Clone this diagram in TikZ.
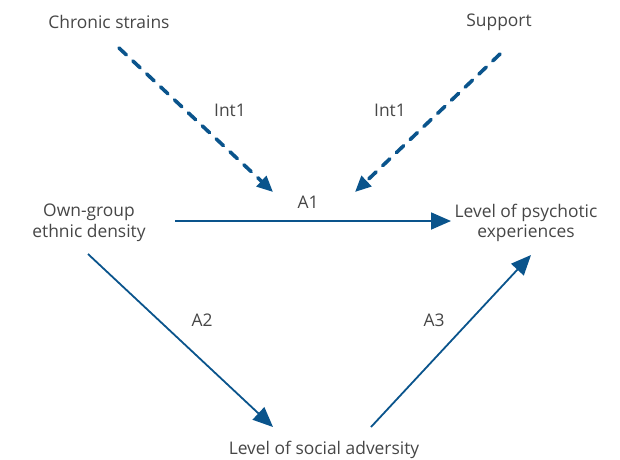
\documentclass[tikz,border=0pt]{standalone}
\usepackage{fontspec}
\setmainfont{Open Sans}
\usetikzlibrary{arrows.meta}
\definecolor{pathblue}{RGB}{10,84,140}
\definecolor{labelgray}{RGB}{70,70,70}
\begin{document}
\begin{tikzpicture}[x=1pt,y=-1pt,
  lbl/.style={text=labelgray,font=\fontsize{17.4}{20.5}\selectfont,align=center,inner sep=0pt},
  path/.style={draw=pathblue,line width=1.8pt,-{Triangle[length=20pt,width=17pt]}},
  dpath/.style={draw=pathblue,line width=3.6pt,dash pattern=on 10pt off 9pt,line cap=round,
    -{Triangle[length=16pt,width=14pt]}}]
\useasboundingbox (0,0) rectangle (620,459);
% variables
\node[lbl] (cs) at (109,22) {Chronic strains};
\node[lbl] (sup) at (499,22) {Support};
\node[lbl] (eth) at (89,223) {Own-group\\ethnic density};
\node[lbl] (psy) at (526,223) {Level of psychotic\\experiences};
\node[lbl] (adv) at (324,450) {Level of social adversity};
% path labels
\node[lbl] (i1) at (230,110) {Int1};
\node[lbl] (i2) at (390,110) {Int1};
\node[lbl] (a1) at (308,202) {A1};
\node[lbl] (a2) at (202,320) {A2};
\node[lbl] (a3) at (434,320) {A3};
% connector end points
\coordinate (csS) at (119,48);
\coordinate (csE) at (273,192);
\coordinate (supS) at (500,54);
\coordinate (supE) at (355,192);
\coordinate (ethR) at (175,221);
\coordinate (psyL) at (451,221);
\coordinate (ethB) at (88,254);
\coordinate (advL) at (273,427);
\coordinate (advR) at (371,427);
\coordinate (psyB) at (531,255);
% moderation paths
\draw[dpath] (csS) -- (csE);
\draw[dpath] (supS) -- (supE);
% direct and mediated paths
\draw[path] (ethR) -- (psyL);
\draw[path] (ethB) -- (advL);
\draw[path] (advR) -- (psyB);
\end{tikzpicture}
\end{document}
